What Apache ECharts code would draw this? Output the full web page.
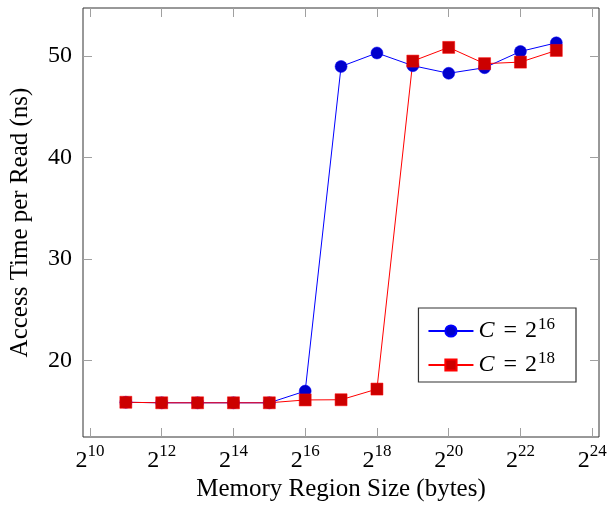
<!DOCTYPE html>
<html><head><meta charset="utf-8">
<script src="https://cdn.jsdelivr.net/npm/echarts@6/dist/echarts.min.js"></script>
<style>html,body{margin:0;padding:0;background:#fff}#c{width:610px;height:508px}</style>
</head><body><div id="c"></div>
<script>
// Memory region size as powers of two (exponents)
const exponents = [11, 12, 13, 14, 15, 16, 17, 18, 19, 20, 21, 22, 23];
const seriesC16 = [15.9, 15.85, 15.85, 15.85, 15.85, 17.0, 48.97, 50.3, 49.05, 48.3, 48.85, 50.45, 51.3];
const seriesC18 = [15.9, 15.85, 15.85, 15.85, 15.85, 16.13, 16.15, 17.2, 49.5, 50.85, 49.25, 49.4, 50.55];
const xTickExponents = [10, 12, 14, 16, 18, 20, 22, 24];
const yTicks = [20, 30, 40, 50];
const seriesNames = ['C16', 'C18'];
const legendLabels = { C16: '16', C18: '18' };

const FONT = 'Liberation Serif';
const pair = (vals) => exponents.map((e, i) => [e, vals[i]]);

const chart = echarts.init(document.getElementById('c'), null, { renderer: 'canvas' });
const tickStyle = { show: true, inside: true, length: 9, lineStyle: { color: '#a0a0a0', width: 1 } };
chart.setOption({
  animation: false,
  backgroundColor: '#fff',
  grid: { left: 82, right: 11, top: 8, bottom: 71, show: true, borderColor: '#333', borderWidth: 1, containLabel: false },
  xAxis: [{
    type: 'value', min: 9.806, max: 24.19,
    axisLine: { show: false }, splitLine: { show: false },
    axisTick: Object.assign({ customValues: xTickExponents }, tickStyle),
    axisLabel: {
      customValues: xTickExponents, margin: 6,
      formatter: v => '{b|2}{s|' + Math.round(v) + '}',
      rich: {
        b: { fontFamily: FONT, fontSize: 24, color: '#000', lineHeight: 35 },
        s: { fontFamily: FONT, fontSize: 17, color: '#000', verticalAlign: 'top', lineHeight: 14 }
      }
    },
    name: 'Memory Region Size (bytes)', nameLocation: 'middle', nameGap: 40,
    nameTextStyle: { fontFamily: FONT, fontSize: 25, color: '#000' }
  }, {
    type: 'value', min: 9.806, max: 24.19, position: 'top',
    axisLine: { show: false }, splitLine: { show: false }, axisLabel: { show: false },
    axisTick: Object.assign({ customValues: xTickExponents }, tickStyle)
  }],
  yAxis: [{
    type: 'value', min: 12.48, max: 54.73,
    axisLine: { show: false }, splitLine: { show: false },
    axisTick: Object.assign({ customValues: yTicks }, tickStyle),
    axisLabel: { customValues: yTicks, margin: 11, fontFamily: FONT, fontSize: 24, color: '#000' },
    name: 'Access Time per Read (ns)', nameLocation: 'middle', nameGap: 50, nameRotate: 90,
    nameTextStyle: { fontFamily: FONT, fontSize: 25, color: '#000' }
  }, {
    type: 'value', min: 12.48, max: 54.73, position: 'right',
    axisLine: { show: false }, splitLine: { show: false }, axisLabel: { show: false },
    axisTick: Object.assign({ customValues: yTicks }, tickStyle)
  }],
  legend: {
    orient: 'vertical', right: 34, top: 308,
    backgroundColor: '#fff', borderColor: '#333', borderWidth: 1.2, borderRadius: 0,
    padding: [8, 21, 5, 9], itemGap: 7, itemWidth: 45, itemHeight: 14,
    formatter: n => '{i|C}{e|=}{t|2}{s|' + legendLabels[n] + '}',
    textStyle: {
      rich: {
        i: { fontFamily: FONT, fontStyle: 'italic', fontSize: 24, color: '#000', lineHeight: 30, padding: [0, 1, 0, 0] },
        e: { fontFamily: FONT, fontSize: 24, color: '#000', lineHeight: 30, padding: [0, 8, 0, 8] },
        t: { fontFamily: FONT, fontSize: 24, color: '#000', lineHeight: 30 },
        s: { fontFamily: FONT, fontSize: 17, color: '#000', verticalAlign: 'top', lineHeight: 14, padding: [0, 0, 0, 1] }
      }
    },
    data: seriesNames
  },
  series: [{
    name: 'C16', type: 'line', data: pair(seriesC16),
    symbol: 'circle', symbolSize: 12,
    lineStyle: { color: '#0000ff', width: 1 },
    itemStyle: { color: '#0000cc', borderColor: '#0000ff', borderWidth: 0.5 }
  }, {
    name: 'C18', type: 'line', data: pair(seriesC18),
    symbol: 'rect', symbolSize: 12,
    lineStyle: { color: '#ff0000', width: 1 },
    itemStyle: { color: '#cc0000', borderColor: '#ff0000', borderWidth: 0.5 }
  }]
});
</script></body></html>
